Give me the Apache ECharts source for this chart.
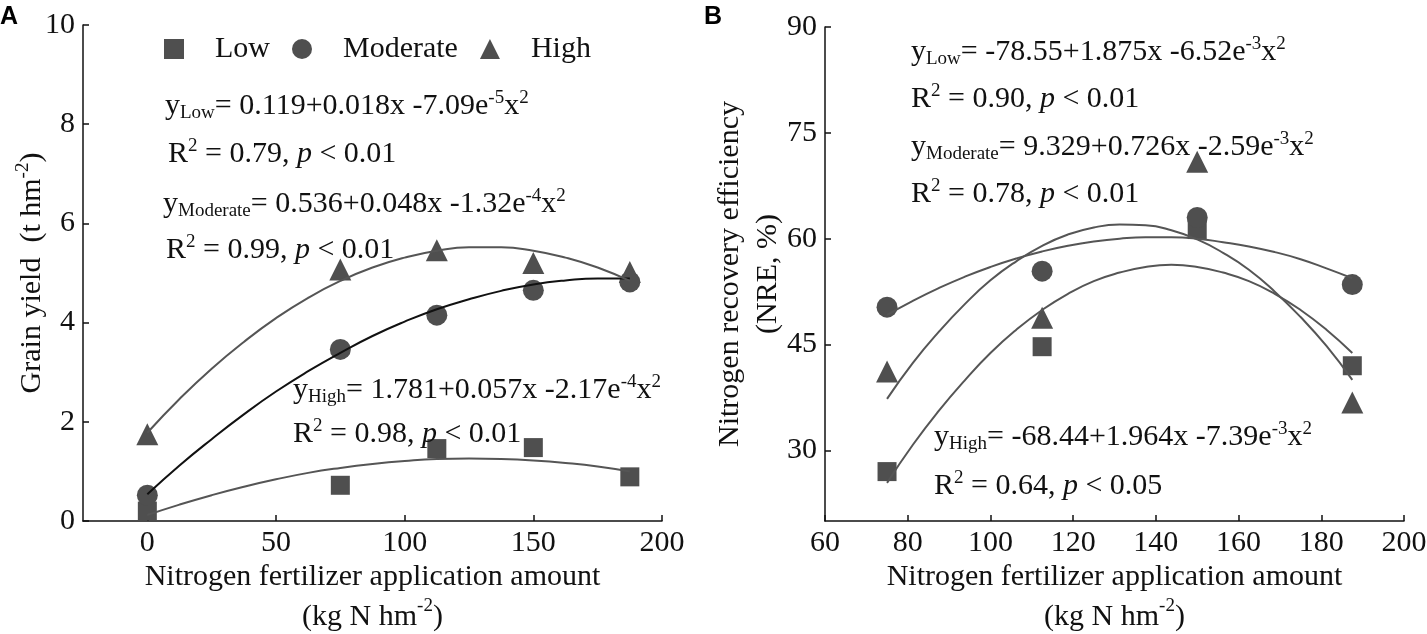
<!DOCTYPE html>
<html>
<head>
<meta charset="utf-8">
<script src="https://cdn.jsdelivr.net/npm/echarts@6/dist/echarts.min.js"></script>
<style>
html,body{margin:0;padding:0;background:#fff;}
#chart{width:1427px;height:634px;}
</style>
</head>
<body>
<div id="chart"></div>
<script>
// ---------- data ----------
const nRateA = [0, 75, 112.5, 150, 187.5];
const yieldLow = [0.2, 0.72, 1.46, 1.48, 0.89];
const yieldModerate = [0.52, 3.46, 4.15, 4.65, 4.82];
const yieldHigh = [1.75, 5.07, 5.46, 5.2, 5.02];

// fitted curves
const fitXA = [0, 12.5, 25, 37.5, 50, 62.5, 75, 87.5, 100, 112.5, 125, 137.5, 150, 162.5, 175, 187.5];
const fitLowA = [0.12, 0.33, 0.52, 0.69, 0.84, 0.97, 1.07, 1.15, 1.21, 1.25, 1.26, 1.25, 1.22, 1.17, 1.1, 1.0];
const fitModerateA = [0.54, 1.12, 1.65, 2.15, 2.61, 3.02, 3.39, 3.73, 4.02, 4.27, 4.47, 4.64, 4.77, 4.85, 4.89, 4.89];
const fitHighA = [1.78, 2.46, 3.07, 3.61, 4.09, 4.5, 4.84, 5.11, 5.31, 5.45, 5.52, 5.52, 5.45, 5.31, 5.11, 4.84];

const nRateB = [75, 112.5, 150, 187.5];
const nreLow = [27.0, 44.7, 61.3, 42.0];
const nreModerate = [50.3, 55.4, 63.0, 53.5];
const nreHigh = [41.2, 48.8, 70.9, 36.8];

const fitXB = [75, 81.25, 87.5, 93.75, 100, 106.25, 112.5, 118.75, 125, 131.25, 137.5, 143.75, 150, 156.25, 162.5, 168.75, 175, 181.25, 187.5];
const fitLowB = [25.4, 30.8, 35.6, 39.9, 43.8, 47.1, 49.9, 52.2, 54.0, 55.2, 56.0, 56.3, 56.0, 55.2, 54.0, 52.2, 49.9, 47.1, 43.8];
const fitModerateB = [49.2, 51.2, 53.0, 54.6, 56.0, 57.2, 58.2, 59.0, 59.6, 60.0, 60.2, 60.2, 60.0, 59.5, 58.9, 58.1, 57.1, 55.8, 54.4];
const fitHighB = [37.3, 42.4, 46.8, 50.7, 54.1, 56.8, 59.0, 60.6, 61.6, 62.0, 61.9, 61.2, 59.9, 58.0, 55.6, 52.5, 48.9, 44.8, 40.0];

const xTicksA = [0, 50, 100, 150, 200];
const yTicksB = [30, 45, 60, 75, 90];
const legendNames = ['Low', 'Moderate', 'High'];

const eqTextsA = [
  '{n|y}{sub|Low}{n|= 0.119+0.018x -7.09e}{sup|-5}{n|x}{sup|2}',
  '{n|R}{sup|2}{n| = 0.79, }{i|p}{n| < 0.01}',
  '{n|y}{sub|Moderate}{n|= 0.536+0.048x -1.32e}{sup|-4}{n|x}{sup|2}',
  '{n|R}{sup|2}{n| = 0.99, }{i|p}{n| < 0.01}',
  '{n|y}{sub|High}{n|= 1.781+0.057x -2.17e}{sup|-4}{n|x}{sup|2}',
  '{n|R}{sup|2}{n| = 0.98, }{i|p}{n| < 0.01}'
];
const eqTextsB = [
  '{n|y}{sub|Low}{n|= -78.55+1.875x -6.52e}{sup|-3}{n|x}{sup|2}',
  '{n|R}{sup|2}{n| = 0.90, }{i|p}{n| < 0.01}',
  '{n|y}{sub|Moderate}{n|= 9.329+0.726x -2.59e}{sup|-3}{n|x}{sup|2}',
  '{n|R}{sup|2}{n| = 0.78, }{i|p}{n| < 0.01}',
  '{n|y}{sub|High}{n|= -68.44+1.964x -7.39e}{sup|-3}{n|x}{sup|2}',
  '{n|R}{sup|2}{n| = 0.64, }{i|p}{n| < 0.05}'
];

// ---------- styling ----------
const FF = 'Liberation Serif';
const TXT = '#111';
const MARK = '#4f4f4f';
const CURVE = '#555';
const FS = 30;

const richEq = {
  n:   {fontFamily: FF, fontSize: FS, lineHeight: 34, color: TXT},
  i:   {fontFamily: FF, fontSize: FS, lineHeight: 34, fontStyle: 'italic', color: TXT},
  sub: {fontFamily: FF, fontSize: 19, lineHeight: 14, verticalAlign: 'bottom', color: TXT},
  sup: {fontFamily: FF, fontSize: 19, lineHeight: 18, verticalAlign: 'top', color: TXT}
};
const richName = {
  sup: {fontFamily: FF, fontSize: 19, lineHeight: 20, verticalAlign: 'top', color: TXT}
};

function pairs(xs, ys) { return xs.map((x, i) => [x, ys[i]]); }

const axisLineStyle = {show: true, onZero: false, lineStyle: {color: TXT, width: 1.5}};
const tickStyle = {show: true, inside: true, length: 6, lineStyle: {color: TXT, width: 1.5}};
const labelStyle = {fontFamily: FF, fontSize: FS, color: TXT};
const nameStyle = {fontFamily: FF, fontSize: FS, color: TXT, rich: richName};

function scatter(name, xi, xs, ys, symbol, size) {
  return {
    name: name, type: 'scatter', xAxisIndex: xi, yAxisIndex: xi,
    data: pairs(xs, ys), symbol: symbol, symbolSize: size,
    itemStyle: {color: MARK, opacity: 1}, z: 2
  };
}
function curve(name, xi, xs, ys, color) {
  return {
    name: name, type: 'line', xAxisIndex: xi, yAxisIndex: xi,
    data: pairs(xs, ys), smooth: true, showSymbol: false, symbol: 'none',
    lineStyle: {color: color, width: 2}, z: 3, silent: true
  };
}

// equation positions (left x, center y)
const eqPosA = [[165, 106], [168, 154], [163, 204], [166, 250], [293, 390], [293, 434]];
const eqPosB = [[911, 52], [911, 99], [911, 147], [911, 194], [934, 437], [934, 486]];

const graphics = [];
eqTextsA.concat(eqTextsB).forEach(function (t, i) {
  const p = i < 6 ? eqPosA[i] : eqPosB[i - 6];
  graphics.push({
    type: 'text', x: p[0], y: p[1], z: 10,
    style: {text: t, rich: richEq, fontFamily: FF, fontSize: FS, fill: TXT,
            align: 'left', verticalAlign: 'middle'}
  });
});
graphics.push({type: 'text', x: 0, y: 17, style: {text: 'A', fontFamily: 'Liberation Sans', fontWeight: 'bold', fontSize: 25, fill: '#000', align: 'left', verticalAlign: 'middle'}});
graphics.push({type: 'text', x: 704, y: 17, style: {text: 'B', fontFamily: 'Liberation Sans', fontWeight: 'bold', fontSize: 25, fill: '#000', align: 'left', verticalAlign: 'middle'}});

const option = {
  animation: false,
  backgroundColor: '#fff',
  textStyle: {fontFamily: FF},
  legend: {
    data: legendNames, left: 159, top: 29, itemWidth: 20, itemHeight: 20, itemGap: 22,
    selectedMode: false,
    textStyle: {fontFamily: FF, fontSize: FS, color: TXT, padding: [0, 0, 0, 26]}
  },
  grid: [
    {left: 83, top: 25, width: 579, height: 496, outerBoundsMode: 'none', containLabel: false},
    {left: 825, top: 27, width: 579, height: 494, outerBoundsMode: 'none', containLabel: false}
  ],
  xAxis: [
    {
      gridIndex: 0, type: 'value', min: -25, max: 200,
      axisLine: axisLineStyle,
      axisTick: Object.assign({customValues: xTicksA}, tickStyle),
      axisLabel: Object.assign({customValues: xTicksA, margin: 7}, labelStyle),
      splitLine: {show: false},
      name: 'Nitrogen fertilizer application amount\n(kg N hm{sup|-2})',
      nameLocation: 'middle', nameGap: 36, nameMoveOverlap: false,
      nameTextStyle: Object.assign({lineHeight: 40}, nameStyle)
    },
    {
      gridIndex: 1, type: 'value', min: 60, max: 200, interval: 20,
      axisLine: axisLineStyle,
      axisTick: tickStyle,
      axisLabel: Object.assign({margin: 7}, labelStyle),
      splitLine: {show: false},
      name: 'Nitrogen fertilizer application amount\n(kg N hm{sup|-2})',
      nameLocation: 'middle', nameGap: 36, nameMoveOverlap: false,
      nameTextStyle: Object.assign({lineHeight: 40}, nameStyle)
    }
  ],
  yAxis: [
    {
      gridIndex: 0, type: 'value', min: 0, max: 10, interval: 2,
      axisLine: axisLineStyle,
      axisTick: tickStyle,
      axisLabel: Object.assign({margin: 8}, labelStyle),
      splitLine: {show: false},
      name: 'Grain yield  (t hm{sup|-2})',
      nameLocation: 'middle', nameRotate: 90, nameGap: 33, nameMoveOverlap: false,
      nameTextStyle: Object.assign({lineHeight: 36}, nameStyle)
    },
    {
      gridIndex: 1, type: 'value', min: 20, max: 90,
      axisLine: axisLineStyle,
      axisTick: Object.assign({customValues: yTicksB}, tickStyle),
      axisLabel: Object.assign({customValues: yTicksB, margin: 8}, labelStyle),
      splitLine: {show: false},
      name: 'Nitrogen recovery efficiency\n(NRE, %)',
      nameLocation: 'middle', nameRotate: 90, nameGap: 38, nameMoveOverlap: false,
      nameTextStyle: Object.assign({lineHeight: 38}, nameStyle)
    }
  ],
  graphic: graphics,
  series: [
    scatter('Low', 0, nRateA, yieldLow, 'rect', 19),
    scatter('Moderate', 0, nRateA, yieldModerate, 'circle', 21),
    scatter('High', 0, nRateA, yieldHigh, 'triangle', 22),
    curve('fitLowA', 0, fitXA, fitLowA, CURVE),
    curve('fitModerateA', 0, fitXA, fitModerateA, '#111'),
    curve('fitHighA', 0, fitXA, fitHighA, CURVE),
    scatter('Low', 1, nRateB, nreLow, 'rect', 19),
    scatter('Moderate', 1, nRateB, nreModerate, 'circle', 21),
    scatter('High', 1, nRateB, nreHigh, 'triangle', 22),
    curve('fitLowB', 1, fitXB, fitLowB, CURVE),
    curve('fitModerateB', 1, fitXB, fitModerateB, CURVE),
    curve('fitHighB', 1, fitXB, fitHighB, CURVE)
  ]
};

const chart = echarts.init(document.getElementById('chart'), null, {renderer: 'canvas'});
chart.setOption(option);
</script>
</body>
</html>
